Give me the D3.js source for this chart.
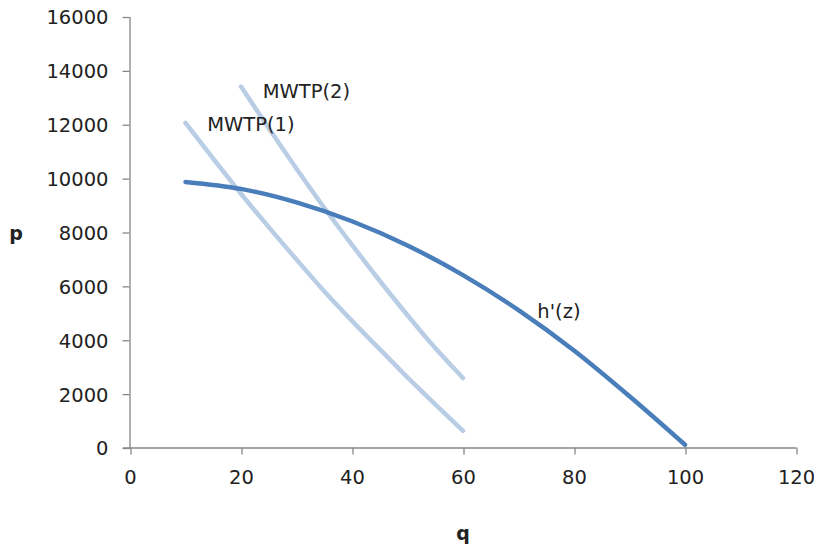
<!DOCTYPE html>
<html>
<head>
<meta charset="utf-8">
<script src="https://cdn.jsdelivr.net/npm/d3@7/dist/d3.min.js"></script>
<style>
  html, body { margin: 0; padding: 0; background: #fff; }
  svg { display: block; }
  .tick text { font-family: "DejaVu Sans", sans-serif; font-size: 19.5px; fill: #222; }
</style>
</head>
<body>
<svg id="chart" width="814" height="548"></svg>
<script>
// ---- data ----
const hQ = [10, 20, 30, 40, 50, 60, 70, 80, 90, 100];
const hP = [9860, 9600, 9100, 8400, 7500, 6400, 5100, 3600, 1900, 100];

const mwtp1Q = [10, 15, 20, 25, 30, 35, 40, 45, 50, 55, 60];
const mwtp1P = [12050, 10720, 9420, 8180, 6980, 5800, 4700, 3650, 2600, 1600, 620];

const mwtp2Q = [20, 25, 30, 35, 40, 45, 50, 55, 60];
const mwtp2P = [13400, 11850, 10350, 8900, 7520, 6190, 4910, 3690, 2580];

const xTicks = [0, 20, 40, 60, 80, 100, 120];
const yTicks = [0, 2000, 4000, 6000, 8000, 10000, 12000, 14000, 16000];

const seriesLabels = [
  { text: "MWTP(2)", q: 23.9, p: 12965 },
  { text: "MWTP(1)", q: 13.9, p: 11751 },
  { text: "h'(z)", q: 73.4, p: 4813 }
];

// ---- drawing ----
const svg = d3.select("#chart");
const x = d3.scaleLinear().domain([0, 120]).range([130, 796]);
const y = d3.scaleLinear().domain([0, 16000]).range([447.5, 16.5]);

const axisColor = "#868686";

const gx = svg.append("g").attr("transform", "translate(0,447.5)")
  .call(d3.axisBottom(x).tickValues(xTicks).tickSize(7).tickSizeOuter(0).tickPadding(16).tickFormat(d3.format("d")));
const gy = svg.append("g").attr("transform", "translate(129.5,0)")
  .call(d3.axisLeft(y).tickValues(yTicks).tickSize(7).tickSizeOuter(0).tickPadding(16).tickFormat(d3.format("d")));

[gx, gy].forEach(g => {
  g.select(".domain").attr("stroke", axisColor).attr("stroke-width", 1.3);
  g.selectAll(".tick line").attr("stroke", axisColor).attr("stroke-width", 1.3);
});
gx.selectAll(".tick line").attr("transform", "translate(0.5,0)");
gy.selectAll(".tick line").attr("transform", "translate(0,0.5)");
gy.selectAll(".tick text").attr("dy", "0.38em").attr("x", -21);
gx.selectAll(".tick text").attr("dy", "0.71em");
// extend x domain leftwards to join y axis
gx.select(".domain").attr("d", `M${x(0) - 7},0.5H${x(120)}`);

const line = d3.line().x(d => x(d[0])).y(d => y(d[1])).curve(d3.curveMonotoneX);

const lightBlue = "#b9cde5";
const darkBlue = "#4a7ebb";

svg.append("path").datum(d3.zip(mwtp1Q, mwtp1P)).attr("d", line)
  .attr("fill", "none").attr("stroke", lightBlue).attr("stroke-width", 4.5).attr("stroke-linecap", "round");
svg.append("path").datum(d3.zip(mwtp2Q, mwtp2P)).attr("d", line)
  .attr("fill", "none").attr("stroke", lightBlue).attr("stroke-width", 4.5).attr("stroke-linecap", "round");
svg.append("path").datum(d3.zip(hQ, hP)).attr("d", line)
  .attr("fill", "none").attr("stroke", darkBlue).attr("stroke-width", 4.5).attr("stroke-linecap", "round");

svg.selectAll(".slabel").data(seriesLabels).enter().append("text")
  .attr("class", "slabel")
  .attr("x", d => x(d.q)).attr("y", d => y(d.p))
  .attr("font-family", "DejaVu Sans, sans-serif").attr("font-size", 19.5).attr("fill", "#222")
  .text(d => d.text);

svg.append("text").attr("x", 16).attr("y", 239.5).attr("text-anchor", "middle")
  .attr("font-family", "DejaVu Sans, sans-serif").attr("font-size", 19).attr("font-weight", "bold").attr("fill", "#222")
  .text("p");
svg.append("text").attr("x", 463).attr("y", 540).attr("text-anchor", "middle")
  .attr("font-family", "DejaVu Sans, sans-serif").attr("font-size", 19).attr("font-weight", "bold").attr("fill", "#222")
  .text("q");
</script>
</body>
</html>
